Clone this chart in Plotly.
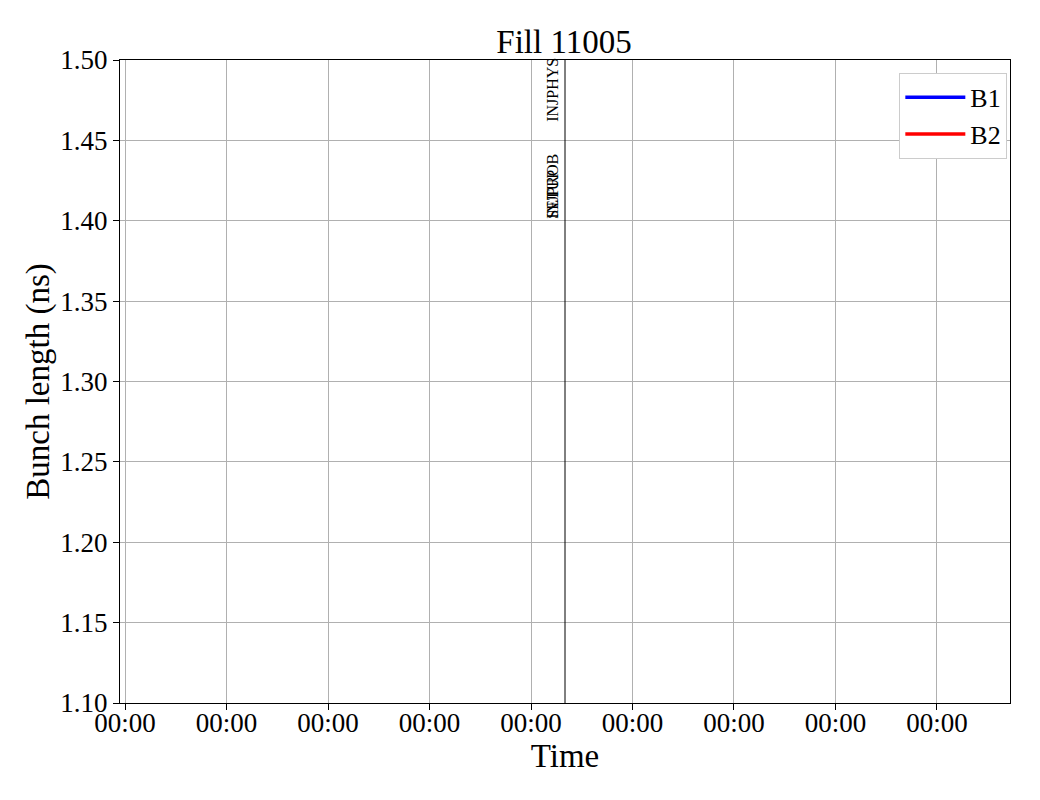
import plotly.graph_objects as go
import pandas as pd

title = "Fill 11005"
base = pd.Timestamp("2024-07-01 00:00:00")
tick_offsets_s = [0, 10, 20, 30, 40, 50, 60, 70, 80]
tick_labels = ["00:00"] * 9
x_range_s = [-0.5, 87.2]
mode_time_s = 43.35
mode_labels = ["INJPHYS", "SETUP", "INJPROB"]
mode_label_y = [1.46, 1.40, 1.40]
y_range = [1.10, 1.50]
y_ticks = [1.10, 1.15, 1.20, 1.25, 1.30, 1.35, 1.40, 1.45, 1.50]
b1_times = []
b1_values = []
b2_times = []
b2_values = []

def ts(s):
    return base + pd.Timedelta(seconds=s)

FONT = "Liberation Serif"
fig = go.Figure()
fig.add_trace(go.Scatter(x=[ts(s) for s in b1_times] or [None], y=b1_values or [None],
                         mode="lines", name="B1", line=dict(color="#0000ff", width=3.5)))
fig.add_trace(go.Scatter(x=[ts(s) for s in b2_times] or [None], y=b2_values or [None],
                         mode="lines", name="B2", line=dict(color="#ff0000", width=3.5)))

mt = ts(mode_time_s)
fig.add_shape(type="line", x0=mt, x1=mt, y0=0, y1=1, xref="x", yref="paper",
              line=dict(color="black", width=1))
for lab, yy in zip(mode_labels, mode_label_y):
    fig.add_annotation(x=mt, y=yy, text=lab, textangle=-90, showarrow=False,
                       xanchor="right", yanchor="bottom", xshift=-2,
                       font=dict(family=FONT, size=16, color="black"))

axis_common = dict(showgrid=True, gridcolor="#b0b0b0", gridwidth=1,
                   showline=True, linecolor="black", linewidth=1, mirror=True,
                   ticks="outside", ticklen=6, tickcolor="black", automargin=False,
                   tickfont=dict(family=FONT, size=27, color="black"), zeroline=False)

fig.update_xaxes(type="date", range=[ts(x_range_s[0]), ts(x_range_s[1])],
                 tickvals=[ts(s) for s in tick_offsets_s], ticktext=tick_labels,
                 ticklabelstandoff=-10,
                 title=dict(text="Time", font=dict(family=FONT, size=33, color="black"), standoff=0),
                 **axis_common)
fig.update_yaxes(range=y_range, tickvals=y_ticks, ticktext=[f"{v:.2f}" for v in y_ticks],
                 title=dict(text="Bunch length (ns)", font=dict(family=FONT, size=33, color="black"), standoff=0),
                 **axis_common)

fig.update_layout(
    width=1040, height=800,
    margin=dict(l=112, r=38, t=52, b=105, autoexpand=False),
    paper_bgcolor="white", plot_bgcolor="white",
    title=dict(text=title, x=0.5346, xanchor="center", y=0.958, yanchor="middle",
               font=dict(family=FONT, size=33, color="black")),
    legend=dict(x=0.997, y=0.98, xanchor="right", yanchor="top",
                bgcolor="white", bordercolor="#cccccc", borderwidth=1,
                font=dict(family=FONT, size=26, color="black"),
                itemwidth=60),
    showlegend=True,
)
fig.write_html("out.html")
